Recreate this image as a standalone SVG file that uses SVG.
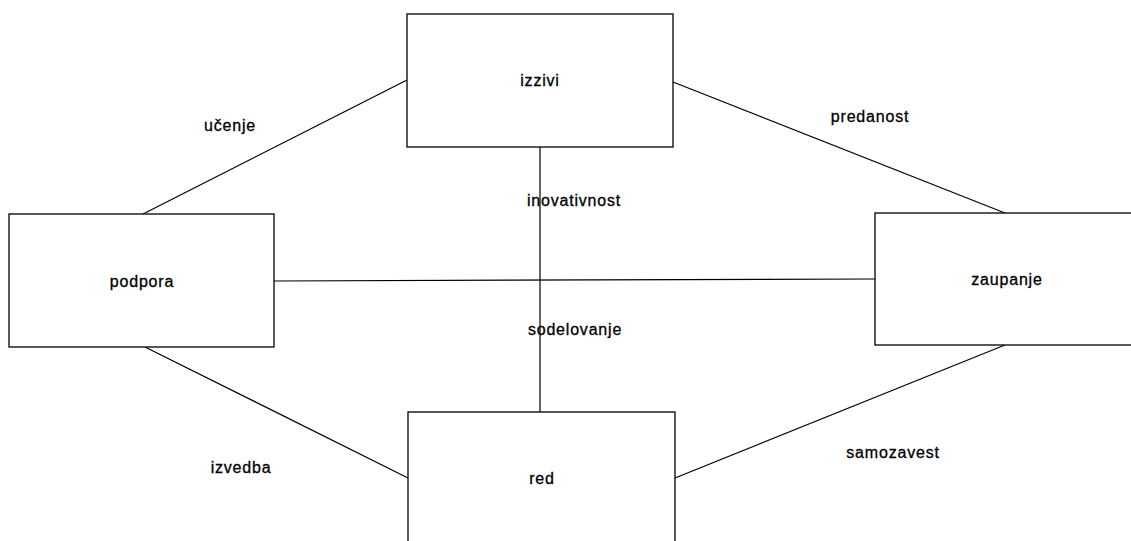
<svg xmlns="http://www.w3.org/2000/svg" width="1131" height="541" viewBox="0 0 1131 541">
<style>
.box{fill:#fff;stroke:#000;stroke-width:1.3}
.ln{stroke:#000;stroke-width:1.2;fill:none}
text{font-family:"Liberation Sans",Arial,sans-serif;font-size:16px;letter-spacing:0.8px;fill:#000;stroke:#000;stroke-width:0.3;text-anchor:middle}
</style>
<rect width="1131" height="541" fill="#fff"/>
<g id="connectors">
<line class="ln" x1="143" y1="214" x2="407" y2="80"/>
<line class="ln" x1="673" y1="82" x2="1005" y2="213"/>
<line class="ln" x1="274" y1="281" x2="875" y2="279"/>
<line class="ln" x1="540" y1="147" x2="540" y2="412"/>
<line class="ln" x1="145" y1="347" x2="408" y2="478"/>
<line class="ln" x1="1005" y1="345" x2="675" y2="478"/>
<text x="230" y="131">učenje</text>
<text x="870" y="122">predanost</text>
<text x="574" y="206">inovativnost</text>
<text x="575" y="335">sodelovanje</text>
<text x="241" y="473">izvedba</text>
<text x="893" y="458">samozavest</text>
</g>
<g id="izzivi">
<rect class="box" x="407" y="14" width="266" height="133"/>
<text x="540" y="86">izzivi</text>
</g>
<g id="podpora">
<rect class="box" x="9" y="214" width="265" height="133"/>
<text x="142" y="287">podpora</text>
</g>
<g id="zaupanje">
<rect class="box" x="875" y="213" width="266" height="132"/>
<text x="1007" y="285">zaupanje</text>
</g>
<g id="red">
<rect class="box" x="408" y="412" width="267" height="140"/>
<text x="542" y="484">red</text>
</g>
</svg>
